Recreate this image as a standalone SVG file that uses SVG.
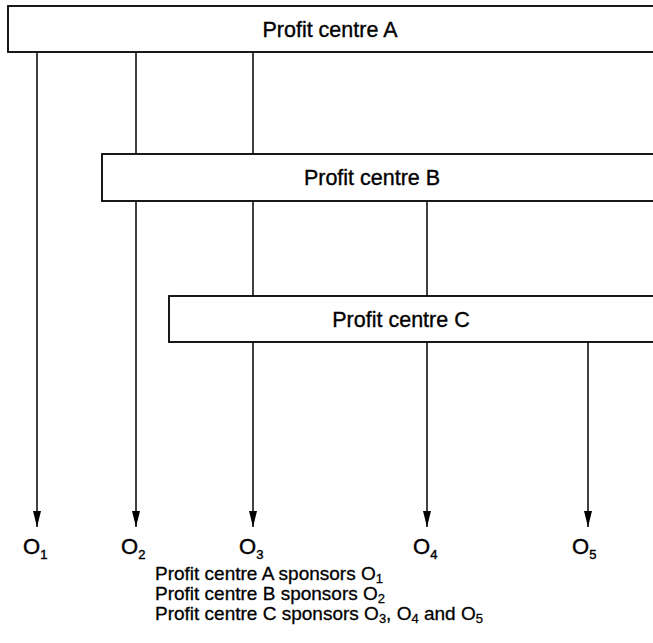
<svg xmlns="http://www.w3.org/2000/svg" width="653" height="643" viewBox="0 0 653 643">
  <defs>
    <marker id="arrow" markerWidth="16" markerHeight="8" refX="16" refY="4" orient="auto" markerUnits="userSpaceOnUse" viewBox="0 0 16 8">
      <path d="M0,0 L16,4 L0,8 Z" fill="#000"/>
    </marker>
    <style>
      .box { fill: #fff; stroke: #000; stroke-width: 1.8; }
      .title { font-family: "Liberation Sans", Arial, sans-serif; font-size: 21.5px; fill: #000; stroke: #000; stroke-width: 0.35; text-anchor: middle; }
      .link { stroke: #000; stroke-width: 1.5; fill: none; }
      .out { font-family: "Liberation Sans", Arial, sans-serif; font-size: 22px; fill: #000; stroke: #000; stroke-width: 0.4; }
      .note { font-family: "Liberation Sans", Arial, sans-serif; font-size: 19px; fill: #000; stroke: #000; stroke-width: 0.3; }
      .sub { font-size: 13px; }
    </style>
  </defs>

  <rect width="653" height="643" fill="#fff"/>

  <!-- connectors: each outcome line drops from its sponsoring centre -->
  <g id="connectors">
    <line class="link" x1="37" y1="52" x2="37" y2="527" marker-end="url(#arrow)"/>
    <line class="link" x1="136" y1="52" x2="136" y2="154"/>
    <line class="link" x1="136" y1="201" x2="136" y2="527" marker-end="url(#arrow)"/>
    <line class="link" x1="253" y1="52" x2="253" y2="154"/>
    <line class="link" x1="253" y1="201" x2="253" y2="296"/>
    <line class="link" x1="253" y1="342" x2="253" y2="527" marker-end="url(#arrow)"/>
    <line class="link" x1="427" y1="201" x2="427" y2="296"/>
    <line class="link" x1="427" y1="342" x2="427" y2="527" marker-end="url(#arrow)"/>
    <line class="link" x1="588" y1="342" x2="588" y2="527" marker-end="url(#arrow)"/>
  </g>

  <g id="centre-a">
    <rect class="box" x="8" y="6" width="660" height="46"/>
    <text class="title" x="330" y="37">Profit centre A</text>
  </g>

  <g id="centre-b">
    <rect class="box" x="102" y="154" width="566" height="47"/>
    <text class="title" x="372" y="185">Profit centre B</text>
  </g>

  <g id="centre-c">
    <rect class="box" x="169" y="296" width="499" height="46"/>
    <text class="title" x="401" y="327">Profit centre C</text>
  </g>

  <g id="o1"><text class="out" x="23" y="554">O<tspan class="sub" dy="5">1</tspan></text></g>
  <g id="o2"><text class="out" x="121" y="554">O<tspan class="sub" dy="5">2</tspan></text></g>
  <g id="o3"><text class="out" x="239" y="554">O<tspan class="sub" dy="5">3</tspan></text></g>
  <g id="o4"><text class="out" x="413" y="554">O<tspan class="sub" dy="5">4</tspan></text></g>
  <g id="o5"><text class="out" x="572" y="554">O<tspan class="sub" dy="5">5</tspan></text></g>

  <g id="legend">
    <text class="note" x="155" y="580">Profit centre A sponsors O<tspan class="sub" dy="3">1</tspan></text>
    <text class="note" x="155" y="600">Profit centre B sponsors O<tspan class="sub" dy="3">2</tspan></text>
    <text class="note" x="155" y="620">Profit centre C sponsors O<tspan class="sub" dy="3">3</tspan><tspan dy="-3">, O</tspan><tspan class="sub" dy="3">4</tspan><tspan dy="-3"> and O</tspan><tspan class="sub" dy="3">5</tspan></text>
  </g>
</svg>
